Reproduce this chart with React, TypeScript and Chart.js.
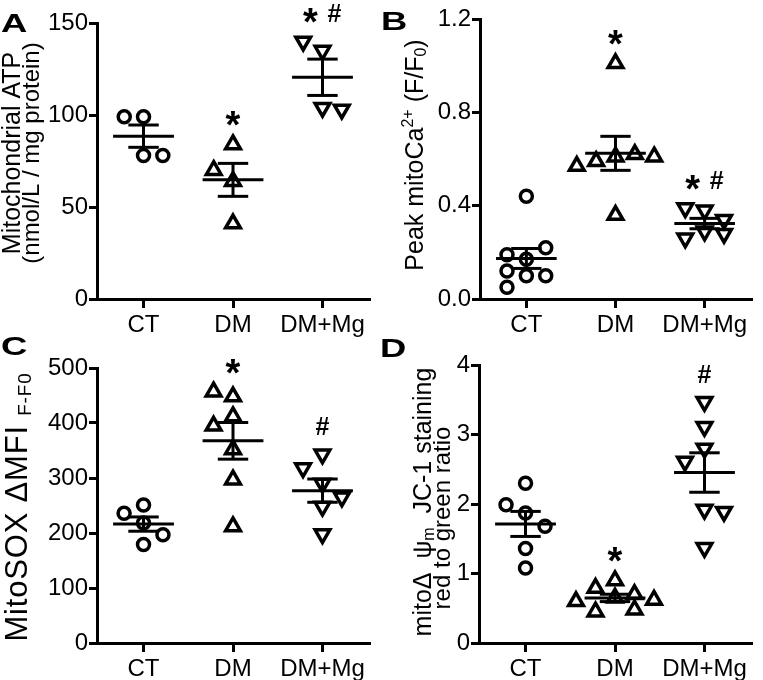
import React, { useEffect, useRef } from "react";
import { Chart, registerables } from "chart.js";
Chart.register(...registerables);

const FAM = "'Liberation Sans', Arial, Helvetica, sans-serif";

// ---------- data ----------
const groups = ["CT", "DM", "DM+Mg"];

// Panel A: mitochondrial ATP (nmol/L / mg protein)
const atpCT = [99, 99, 78, 78];
const atpDM = [84, 64, 70, 41];
const atpDMMg = [135, 140, 104, 103];
const atpTicks = [0, 50, 100, 150];
const atpSig = ["", "*", "* #"];

// Panel B: peak mitoCa2+ (F/F0)
const caCT = [0.44, 0.17, 0.19, 0.22, 0.1, 0.1, 0.12, 0.05];
const caDM = [1.01, 0.61, 0.62, 0.59, 0.61, 0.57, 0.36];
const caDMMg = [0.38, 0.39, 0.34, 0.29, 0.28, 0.26];
const caTicks = [0, 0.4, 0.8, 1.2];
const caSig = ["", "*", "* #"];

// Panel C: MitoSOX ΔMFI F-F0
const soxCT = [218, 236, 251, 197, 179];
const soxDM = [448, 457, 412, 395, 352, 297, 212];
const soxDMMg = [343, 318, 290, 265, 248, 198];
const soxTicks = [0, 100, 200, 300, 400, 500];
const soxSig = ["", "*", "#"];

// Panel D: JC-1 red to green ratio
const jcCT = [2.3, 1.87, 1.99, 1.68, 1.36, 1.08];
const jcDM = [0.9, 0.79, 0.7, 0.65, 0.62, 0.6, 0.48, 0.45];
const jcDMMg = [3.47, 3.11, 2.8, 2.61, 1.92, 1.89, 1.37];
const jcTicks = [0, 1, 2, 3, 4];
const jcSig = ["", "*", "#"];

// ---------- helpers ----------
type Seg = { t: string; s?: "sup" | "sub" };
type TitleLine = { segs: Seg[]; base: number; center: number; size: number; spacing?: number };
type Panel = {
  letter: string;
  left: number;
  top: number;
  width: number;
  height: number;
  area: { left: number; top: number; right: number; bottom: number };
  groupsData: number[][];
  ticks: number[];
  decimals: number;
  sig: string[];
  title: TitleLine[];
  letterAt: [number, number];
};

const mean = (a: number[]) => a.reduce((s, v) => s + v, 0) / a.length;
const sem = (a: number[]) => {
  const m = mean(a);
  const sd = Math.sqrt(a.reduce((s, v) => s + (v - m) * (v - m), 0) / (a.length - 1));
  return sd / Math.sqrt(a.length);
};

// simple beeswarm: returns pixel offsets
function swarm(values: number[], pxPerUnit: number): number[] {
  const step = 20;
  const hit = 14;
  const m = mean(values);
  const placed: { x: number; y: number }[] = [];
  return values.map((v) => {
    const y = v * pxPerUnit;
    const dir = v >= m ? -1 : 1;
    const cands = [0, dir, -dir, 2 * dir, -2 * dir, 3 * dir, -3 * dir];
    for (const c of cands) {
      const x = c * step;
      if (placed.every((p) => Math.abs(p.x - x) >= step * 0.9 || Math.abs(p.y - y) >= hit)) {
        placed.push({ x, y });
        return x;
      }
    }
    placed.push({ x: 0, y });
    return 0;
  });
}

const panels: Panel[] = [
  {
    letter: "A",
    left: 0,
    top: 0,
    width: 381,
    height: 345,
    area: { left: 97, top: 23, right: 379, bottom: 299 },
    groupsData: [atpCT, atpDM, atpDMMg],
    ticks: atpTicks,
    decimals: 0,
    sig: atpSig,
    title: [
      { segs: [{ t: "Mitochondrial ATP" }], base: 20, center: 153, size: 25 },
      { segs: [{ t: "(nmol/L / mg protein)" }], base: 39, center: 153, size: 24 },
    ],
    letterAt: [1, 32],
  },
  {
    letter: "B",
    left: 380,
    top: 0,
    width: 383,
    height: 345,
    area: { left: 100, top: 19, right: 380, bottom: 299 },
    groupsData: [caCT, caDM, caDMMg],
    ticks: caTicks,
    decimals: 1,
    sig: caSig,
    title: [
      {
        segs: [{ t: "Peak mitoCa" }, { t: "2+", s: "sup" }, { t: " (F/F" }, { t: "0", s: "sub" }, { t: ")" }],
        base: 43,
        center: 155,
        size: 25,
      },
    ],
    letterAt: [1, 30],
  },
  {
    letter: "C",
    left: 0,
    top: 330,
    width: 381,
    height: 350,
    area: { left: 97, top: 38, right: 377, bottom: 313 },
    groupsData: [soxCT, soxDM, soxDMMg],
    ticks: soxTicks,
    decimals: 0,
    sig: soxSig,
    title: [
      { segs: [{ t: "MitoSOX ΔMFI " }, { t: "F-F0", s: "sub" }], base: 27, center: 177, size: 31, spacing: 0.8 },
    ],
    letterAt: [1, 25],
  },
  {
    letter: "D",
    left: 380,
    top: 330,
    width: 383,
    height: 350,
    area: { left: 99, top: 35, right: 378, bottom: 313 },
    groupsData: [jcCT, jcDM, jcDMMg],
    ticks: jcTicks,
    decimals: 0,
    sig: jcSig,
    title: [
      {
        segs: [{ t: "mitoΔ  ψ" }, { t: "m", s: "sub" }, { t: "  JC-1 staining" }],
        base: 51,
        center: 172,
        size: 25,
      },
      { segs: [{ t: "red to green ratio" }], base: 70, center: 188, size: 24 },
    ],
    letterAt: [0, 27],
  },
];

const shapes = ["circle", "triangle", "triangle"];
const rotations = [0, 0, 180];
const radii = [6, 8.5, 8.5];

function drawRotated(ctx: CanvasRenderingContext2D, line: TitleLine) {
  const size = line.size;
  const small = Math.round(size * 0.62);
  const fontOf = (s?: string) => `${s ? small : size}px ${FAM}`;
  ctx.save();
  ctx.translate(line.base, line.center);
  ctx.rotate(-Math.PI / 2);
  ctx.textAlign = "left";
  ctx.textBaseline = "alphabetic";
  (ctx as any).letterSpacing = `${line.spacing ?? 0}px`;
  let total = 0;
  line.segs.forEach((sg) => {
    ctx.font = fontOf(sg.s);
    total += ctx.measureText(sg.t).width;
  });
  let x = -total / 2;
  line.segs.forEach((sg) => {
    ctx.font = fontOf(sg.s);
    const dy = sg.s === "sup" ? -size * 0.4 : sg.s === "sub" ? size * 0.12 : 0;
    ctx.fillText(sg.t, x, dy);
    x += ctx.measureText(sg.t).width;
  });
  ctx.restore();
}

function decorPlugin(p: Panel) {
  return {
    id: "decor" + p.letter,
    afterDraw(chart: any) {
      const ctx: CanvasRenderingContext2D = chart.ctx;
      const xs = chart.scales.x;
      const ys = chart.scales.y;
      ctx.save();
      ctx.fillStyle = "#000";
      ctx.textAlign = "left";
      ctx.textBaseline = "alphabetic";
      ctx.font = `bold 26px ${FAM}`;
      ctx.save();
      ctx.translate(p.letterAt[0], p.letterAt[1]);
      ctx.scale(1.4, 1);
      ctx.fillText(p.letter, 0, 0);
      ctx.restore();
      p.title.forEach((l) => drawRotated(ctx, l));
      ctx.textAlign = "center";
      p.sig.forEach((txt, gi) => {
        if (!txt) return;
        const x = xs.getPixelForValue(gi + 1);
        const yc = ys.getPixelForValue(Math.max(...p.groupsData[gi])) - 28;
        const parts = txt.split(" ");
        const pos = parts.length > 1 ? [-12, 12] : [0];
        parts.forEach((pt, k) => {
          if (pt === "*") {
            ctx.font = `bold 38px ${FAM}`;
            ctx.fillText("*", x + pos[k], yc + 22);
          } else {
            ctx.font = `bold 25px ${FAM}`;
            ctx.fillText(pt, x + pos[k], yc + 9);
          }
        });
      });
      ctx.restore();
    },
  };
}

function makeChart(canvas: HTMLCanvasElement, p: Panel) {
  const yMin = p.ticks[0];
  const yMax = p.ticks[p.ticks.length - 1];
  const xMin = 0.48;
  const xMax = 3.52;
  const plotH = p.area.bottom - p.area.top;
  const pxPerCat = (p.area.right - p.area.left) / (xMax - xMin);
  const MW = 0.34;
  const SW = 0.17;
  const datasets: any[] = [];
  p.groupsData.forEach((vals, gi) => {
    const offs = swarm(vals, plotH / (yMax - yMin));
    const c = gi + 1;
    datasets.push({
      data: vals.map((v, j) => ({ x: c + offs[j] / pxPerCat, y: v })),
      pointStyle: shapes[gi],
      rotation: rotations[gi],
      pointRadius: radii[gi],
      pointHoverRadius: radii[gi],
      borderColor: "#000",
      backgroundColor: "rgba(0,0,0,0)",
      borderWidth: 3.5,
      showLine: false,
      order: 2,
    });
    const m = mean(vals);
    const se = sem(vals);
    const seg = (x0: number, x1: number, y0: number, y1: number) =>
      datasets.push({
        data: [
          { x: x0, y: y0 },
          { x: x1, y: y1 },
        ],
        showLine: true,
        borderColor: "#000",
        borderWidth: 3,
        pointRadius: 0,
        pointHoverRadius: 0,
        fill: false,
        borderCapStyle: "butt",
        order: 1,
      });
    seg(c - MW, c + MW, m, m);
    seg(c - SW, c + SW, m + se, m + se);
    seg(c - SW, c + SW, m - se, m - se);
    seg(c, c, m - se, m + se);
  });

  const tickFont = { family: FAM, size: 24 };
  return new Chart(canvas, {
    type: "scatter",
    data: { datasets },
    options: {
      animation: false,
      responsive: false,
      devicePixelRatio: 1,
      events: [],
      layout: { padding: { left: 0, top: p.area.top, right: p.width - p.area.right, bottom: 0 } },
      plugins: { legend: { display: false }, tooltip: { enabled: false }, title: { display: false } },
      scales: {
        x: {
          type: "linear",
          min: xMin,
          max: xMax,
          afterBuildTicks: (s: any) => {
            s.ticks = groups.map((_, i) => ({ value: i + 1 }));
          },
          afterFit: (s: any) => {
            s.height = p.height - p.area.bottom;
          },
          grid: { display: true, drawOnChartArea: false, drawTicks: true, tickLength: 9, color: "#000", lineWidth: 3 },
          border: { display: true, color: "#000", width: 3 },
          ticks: {
            color: "#000",
            font: tickFont,
            padding: 3,
            maxRotation: 0,
            autoSkip: false,
            callback: (v: any) => groups[Math.round(Number(v)) - 1] ?? "",
          },
        },
        y: {
          type: "linear",
          min: yMin,
          max: yMax,
          afterBuildTicks: (s: any) => {
            s.ticks = p.ticks.map((v) => ({ value: v }));
          },
          afterFit: (s: any) => {
            s.width = p.area.left;
          },
          grid: { display: true, drawOnChartArea: false, drawTicks: true, tickLength: 8, color: "#000", lineWidth: 3 },
          border: { display: true, color: "#000", width: 3 },
          ticks: {
            color: "#000",
            font: tickFont,
            padding: 1,
            callback: (v: any) => Number(v).toFixed(p.decimals),
          },
        },
      },
    } as any,
    plugins: [decorPlugin(p)],
  });
}

function PanelChart({ p }: { p: Panel }) {
  const ref = useRef<HTMLCanvasElement | null>(null);
  useEffect(() => {
    if (!ref.current) return;
    const c = makeChart(ref.current, p);
    return () => c.destroy();
  }, [p]);
  return (
    <canvas
      ref={ref}
      width={p.width}
      height={p.height}
      style={{ position: "absolute", left: p.left, top: p.top, width: p.width, height: p.height }}
    />
  );
}

export default function App() {
  return (
    <div
      style={{ position: "absolute", left: 0, top: 0, width: 763, height: 680, background: "#fff", overflow: "hidden" }}
    >
      {panels.map((p) => (
        <PanelChart key={p.letter} p={p} />
      ))}
    </div>
  );
}
